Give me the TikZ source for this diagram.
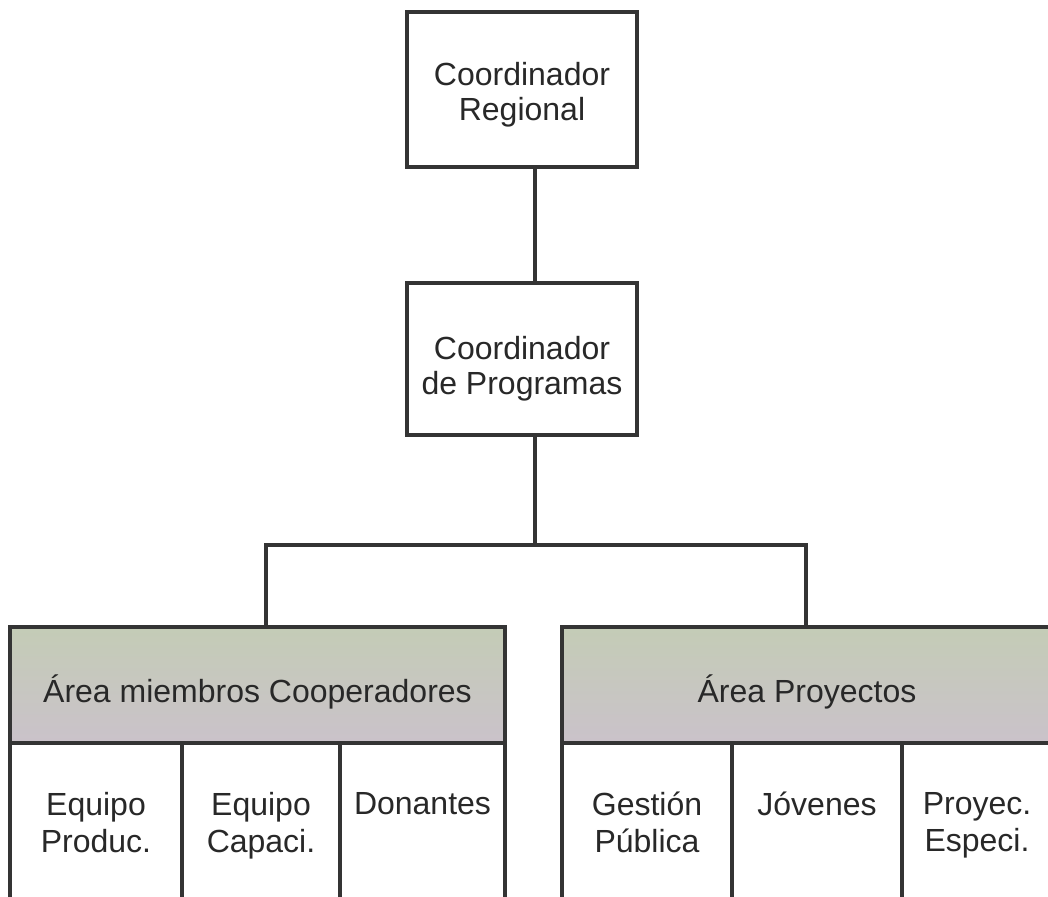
\documentclass[tikz,border=0pt]{standalone}
\usepackage{fontspec}
\setmainfont{Liberation Sans}
\definecolor{linec}{RGB}{52,52,52}
\definecolor{txtc}{RGB}{40,40,40}
\definecolor{headtop}{RGB}{196,204,182}
\definecolor{headbot}{RGB}{202,194,202}
\begin{document}
\begin{tikzpicture}[x=1pt,y=-1pt,
  conn/.style={draw=linec, line width=3.5pt},
  box/.style={draw=linec, line width=3.5pt, fill=white, rectangle, inner sep=0pt, outer sep=0pt},
  headbox/.style={box, top color=headtop, bottom color=headbot},
  lbl/.style={text=txtc, font=\fontsize{32}{35}\selectfont, align=center, inner sep=0pt},
  celllbl/.style={text=txtc, font=\fontsize{32}{37}\selectfont, align=center, inner sep=0pt, anchor=north}]
\clip (0,0) rectangle (1048,896);
\fill[white] (0,0) rectangle (1048,896);
% connector junctions
\coordinate (j) at (535,545);
\coordinate (jl) at (266,545);
\coordinate (jr) at (806,545);
% boxes
\node[box, minimum width=230pt, minimum height=155pt] (r) at (522,89.5) {};
\node[box, minimum width=230pt, minimum height=152pt] (p) at (522,359) {};
\node[headbox, minimum width=495pt, minimum height=116pt] (hA) at (257.5,685) {};
\node[headbox, minimum width=490pt, minimum height=116pt] (hB) at (807,685) {};
% cells
\node[box, minimum width=172pt, minimum height=162pt] (a1) at (96,824) {};
\node[box, minimum width=158pt, minimum height=162pt] (a2) at (261,824) {};
\node[box, minimum width=165pt, minimum height=162pt] (a3) at (422.5,824) {};
\node[box, minimum width=170pt, minimum height=162pt] (b1) at (647,824) {};
\node[box, minimum width=170pt, minimum height=162pt] (b2) at (817,824) {};
\node[box, minimum width=150pt, minimum height=162pt] (b3) at (977,824) {};
% connectors
\draw[conn] (r.south -| j) -- (p.north -| j);
\draw[conn] (p.south -| j) -- (j);
\draw[conn] (hA.north -| jl) -- (jl) -- (jr) -- (hB.north -| jr);
% labels
\node[lbl, anchor=north] (tr) at (522,62) {Coordinador\\Regional};
\node[lbl, anchor=north] (tp) at (522,336) {Coordinador\\de Programas};
\node[lbl, anchor=base] (thA) at (257.5,702) {Área miembros Cooperadores};
\node[lbl, anchor=base] (thB) at (807,702) {Área Proyectos};
\node[celllbl] (ta1) at (96,792) {Equipo\\Produc.};
\node[celllbl] (ta2) at (261,792) {Equipo\\Capaci.};
\node[celllbl] (ta3) at (422.5,792) {Donantes};
\node[celllbl] (tb1) at (647,792) {Gestión\\Pública};
\node[celllbl] (tb2) at (817,792) {Jóvenes};
\node[celllbl] (tb3) at (977,792) {Proyec.\\Especi.};
\end{tikzpicture}
\end{document}
